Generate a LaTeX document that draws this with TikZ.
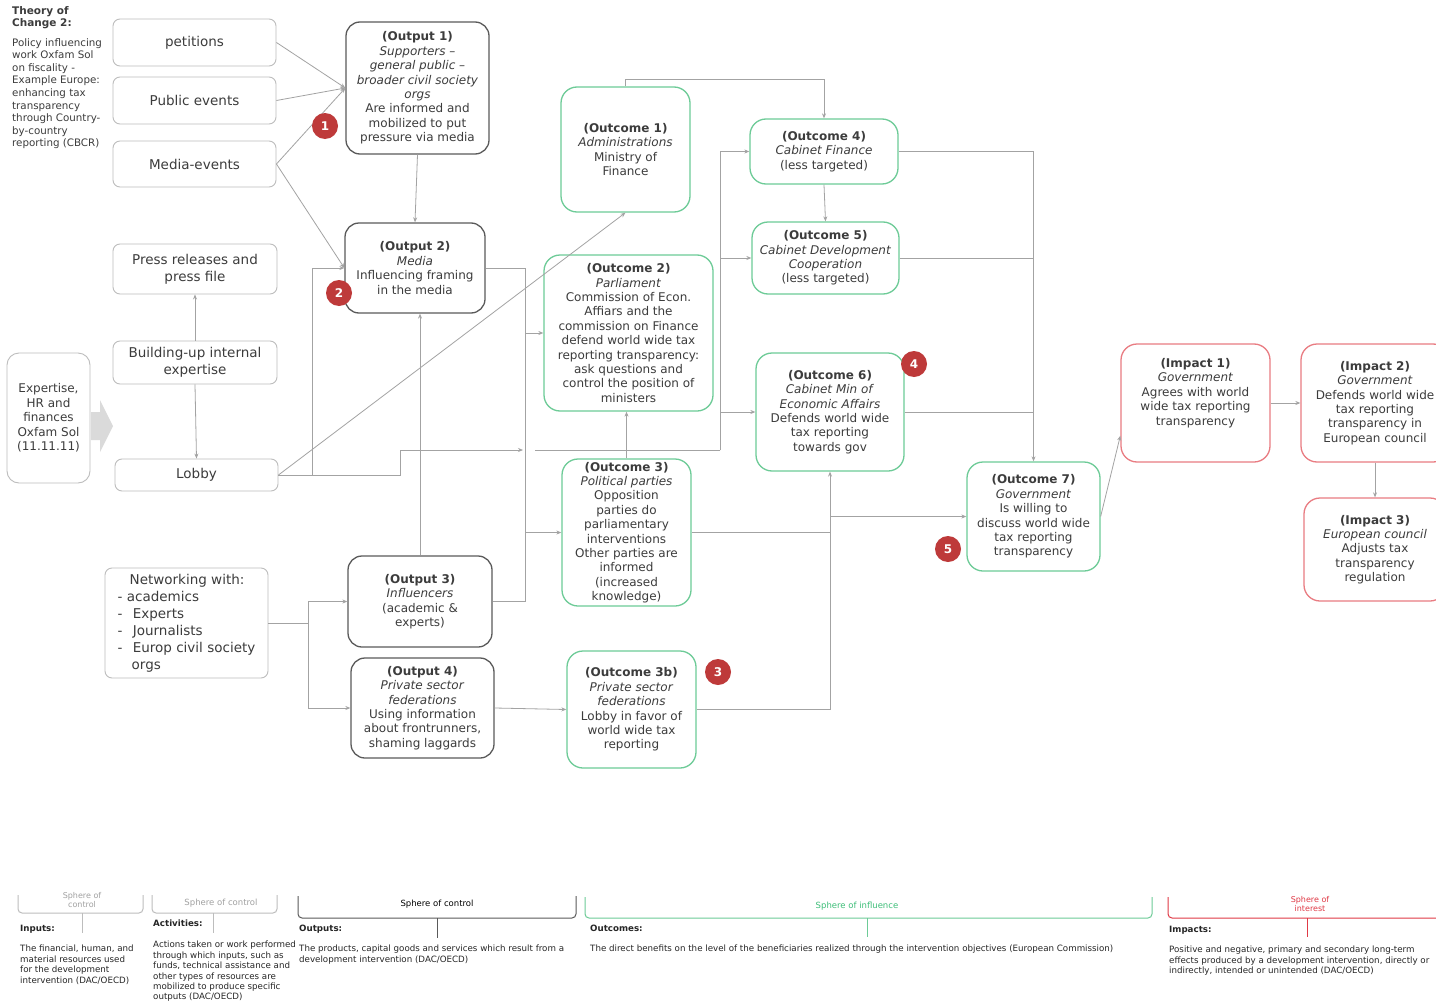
\documentclass[tikz,border=0pt]{standalone}
\usepackage{fontspec}
\setmainfont{DejaVu Sans}
\usetikzlibrary{positioning}
\usetikzlibrary{arrows.meta}
\usetikzlibrary{calc}
\definecolor{txtgray}{HTML}{3C3C3C}
\definecolor{boxgray}{HTML}{BDBDBD}
\definecolor{outgray}{HTML}{5A5A5A}
\definecolor{ocgreen}{HTML}{6DCB97}
\definecolor{imred}{HTML}{E97C82}
\definecolor{badgered}{HTML}{BE3A3A}
\definecolor{wiregray}{HTML}{A3A3A3}
\definecolor{arrowgray}{HTML}{DADADA}
\definecolor{leggreen}{HTML}{3DBE78}
\definecolor{legred}{HTML}{E03A46}
\tikzset{
    actbox/.style = {rectangle, rounded corners=7pt, draw=boxgray, line width=0.9pt, align=center, text=txtgray, inner sep=1pt, font=\fontsize{13.5}{17}\selectfont},
    outbox/.style = {rectangle, rounded corners=14pt, draw=outgray, line width=1.3pt, align=center, text=txtgray, inner sep=1pt, font=\fontsize{12}{14.4}\selectfont},
    ocbox/.style = {outbox, rounded corners=16pt, draw=ocgreen},
    imbox/.style = {outbox, rounded corners=16pt, draw=imred},
    badge/.style = {circle, fill=badgered, text=white, minimum size=26pt, inner sep=0pt, font=\fontsize{12}{12}\selectfont\bfseries},
    wire/.style = {draw=wiregray, line width=0.8pt},
    conn/.style = {wire, -{Stealth[length=5pt,width=4pt]}},
    notetext/.style = {align=left, anchor=north west, text=txtgray, inner sep=0pt},
    legtext/.style = {align=left, anchor=north west, text=black!85, inner sep=0pt, font=\fontsize{8.7}{10.4}\selectfont},
    leghead/.style = {legtext, font=\fontsize{8.7}{10.4}\selectfont\bfseries},
    spheretext/.style = {align=center, inner sep=0pt, font=\fontsize{8.5}{7}\selectfont},
    sphere/.style = {line width=1pt, rounded corners=4pt}
}
\begin{document}
\begin{tikzpicture}[x=1pt,y=-1pt]
\path[use as bounding box, fill=white] (0,0) rectangle (1436,1001);
\clip (0,0) rectangle (1436,1001);
%
% inputs and activities
\node[notetext, font=\fontsize{10.5}{12}\selectfont\bfseries] at (12,6) (theory) {Theory of\\Change 2:};
\node[notetext, font=\fontsize{10.3}{12.6}\selectfont] at (12,38) (theorytxt) {Policy influencing\\work Oxfam Sol\\on fiscality -\\Example Europe:\\enhancing tax\\transparency\\through Country-\\by-country\\reporting (CBCR)};
\node[actbox, minimum width=163pt, minimum height=47pt] at (194.5,42.5) (petitions) {petitions};
\node[actbox, minimum width=163pt, minimum height=47pt] at (194.5,100.5) (pubev) {Public events};
\node[actbox, minimum width=163pt, minimum height=46pt] at (194.5,164) (mediaev) {Media-events};
\node[actbox, minimum width=164pt, minimum height=50pt] at (195,269) (press) {Press releases and\\press file};
\node[actbox, minimum width=164pt, minimum height=43pt] at (195,362.5) (buildup) {Building-up internal\\expertise};
\node[actbox, minimum width=163pt, minimum height=32pt] at (196.5,475) (lobby) {Lobby};
\node[actbox, align=left, minimum width=163pt, minimum height=110pt] at (186.5,623) (network) {\hspace*{12pt}Networking with:\\- academics\\-\hspace{6pt} Experts\\-\hspace{6pt} Journalists\\-\hspace{6pt} Europ civil society\\\hspace*{14pt}orgs};
\node[actbox, font=\fontsize{12}{14.5}\selectfont, rounded corners=12pt, minimum width=83pt, minimum height=130pt] at (48.5,418) (inputs) {Expertise,\\HR and\\finances\\Oxfam Sol\\(11.11.11)};
\fill[arrowgray] (91,412) -- (100,412) -- (100,400) -- (113,426) -- (100,452) -- (100,440) -- (91,440) -- cycle;
%
% outputs
\node[outbox, minimum width=143pt, minimum height=132pt] at (417.5,88) (out1) {\textbf{(Output 1)}\\\textit{Supporters –}\\\textit{general public –}\\\textit{broader civil society}\\\textit{orgs}\\Are informed and\\mobilized to put\\pressure via media};
\node[outbox, minimum width=140pt, minimum height=90pt] at (415,268) (out2) {\textbf{(Output 2)}\\\textit{Media}\\Influencing framing\\in the media};
\node[outbox, minimum width=144pt, minimum height=91pt] at (420,601.5) (out3) {\textbf{(Output 3)}\\\textit{Influencers}\\(academic \&\\experts)};
\node[outbox, minimum width=143pt, minimum height=100pt] at (422.5,708) (out4) {\textbf{(Output 4)}\\\textit{Private sector}\\\textit{federations}\\Using information\\about frontrunners,\\shaming laggards};
%
% outcomes
\node[ocbox, minimum width=129pt, minimum height=125pt] at (625.5,149.5) (oc1) {\textbf{(Outcome 1)}\\\textit{Administrations}\\Ministry of\\Finance};
\node[ocbox, minimum width=169pt, minimum height=156pt] at (628.5,333) (oc2) {\textbf{(Outcome 2)}\\\textit{Parliament}\\Commission of Econ.\\Affiars and the\\commission on Finance\\defend world wide tax\\reporting transparency:\\ask questions and\\control the position of\\ministers};
\node[ocbox, minimum width=129pt, minimum height=147pt] at (626.5,532.5) (oc3) {\textbf{(Outcome 3)}\\\textit{Political parties}\\Opposition\\parties do\\parliamentary\\interventions\\Other parties are\\informed\\(increased\\knowledge)};
\node[ocbox, minimum width=129pt, minimum height=117pt] at (631.5,709.5) (oc3b) {\textbf{(Outcome 3b)}\\\textit{Private sector}\\\textit{federations}\\Lobby in favor of\\world wide tax\\reporting};
\node[ocbox, minimum width=148pt, minimum height=65pt] at (824,151.5) (oc4) {\textbf{(Outcome 4)}\\\textit{Cabinet Finance}\\(less targeted)};
\node[ocbox, minimum width=147pt, minimum height=72pt] at (825.5,258) (oc5) {\textbf{(Outcome 5)}\\\textit{Cabinet Development}\\\textit{Cooperation}\\(less targeted)};
\node[ocbox, minimum width=148pt, minimum height=118pt] at (830,412) (oc6) {\textbf{(Outcome 6)}\\\textit{Cabinet Min of}\\\textit{Economic Affairs}\\Defends world wide\\tax reporting\\towards gov};
\node[ocbox, minimum width=133pt, minimum height=109pt] at (1033.5,516.5) (oc7) {\textbf{(Outcome 7)}\\\textit{Government}\\Is willing to\\discuss world wide\\tax reporting\\transparency};
%
% impacts
\node[imbox, minimum width=149pt, minimum height=118pt] at (1195.5,403) (im1) {\textbf{(Impact 1)}\\\textit{Government}\\Agrees with world\\wide tax reporting\\transparency\\[8pt]};
\node[imbox, minimum width=148pt, minimum height=118pt] at (1375,403) (im2) {\textbf{(Impact 2)}\\\textit{Government}\\Defends world wide\\tax reporting\\transparency in\\European council};
\node[imbox, minimum width=142pt, minimum height=103pt] at (1375,549.5) (im3) {\textbf{(Impact 3)}\\\textit{European council}\\Adjusts tax\\transparency\\regulation};
%
% junctions
\coordinate (lb1) at (312,268);
\coordinate (lb2) at (400,450);
\coordinate (lb3) at (523,450);
\coordinate (lb4) at (535,450);
\coordinate (bus2) at (720,450);
\coordinate (b1a) at (525,268);
\coordinate (nw) at (308,623);
%
\draw[conn] (petitions.east) -- (out1.west);
\draw[conn] (pubev.east) -- (out1.west);
\draw[conn] (mediaev.east) -- (out1.west);
\draw[conn] (mediaev.east) -- (out2.west);
\draw[conn] (out1.south) -- (out2.north);
\draw[conn] (buildup.north) -- (press.south);
\draw[conn] (buildup.south) -- (lobby.north);
\draw[conn] (lobby.east) -- (oc1.south);
\draw[conn] (lobby.east) -| (lb1) -- (out2.west);
\draw[conn] (lobby.east) -| (lb2) -- (lb3);
\draw[wire] (lb4) -- (bus2);
\draw[conn] (bus2) |- (oc4.west);
\draw[conn] (bus2) |- (oc5.west);
\draw[conn] (bus2) |- (oc6.west);
\draw[wire] (out2.east) -- (b1a);
\draw[conn] (b1a) |- (oc2.west);
\draw[conn] (b1a) |- (oc3.west);
\draw[wire] (out3.east) -| (b1a |- oc3.west);
\draw[conn] (out3.north) -- (out3.north |- out2.south);
\draw[wire] (network.east) -- (nw);
\draw[conn] (nw) |- (out3.west);
\draw[conn] (nw) |- (out4.west);
\draw[conn] (out4.east) -- (oc3b.west);
\draw[conn] (oc3.north) -- (oc3.north |- oc2.south);
\draw[wire] (oc3.east) -- (oc3.east -| oc6.south);
\draw[conn] (oc3b.east) -| (oc6.south);
\draw[conn] (oc7.west -| oc6.south) -- (oc7.west);
\draw[conn] (oc1.north) -- ++(0,-7) -| (oc4.north);
\draw[conn] (oc4.south) -- (oc5.north);
\draw[conn] (oc4.east) -| (oc7.north);
\draw[wire] (oc5.east) -- (oc5.east -| oc7.north);
\draw[wire] (oc6.east) -- (oc6.east -| oc7.north);
\draw[conn] (oc7.east) -- ($(im1.south west)+(0,-27)$);
\draw[conn] (im1.east) -- (im2.west);
\draw[conn] (im2.south) -- (im3.north);
%
% numbered steps
\node[badge] at (325,126) (n1) {1};
\node[badge] at (339,293) (n2) {2};
\node[badge] at (718,672) (n3) {3};
\node[badge] at (914,364) (n4) {4};
\node[badge] at (948,549) (n5) {5};
%
% spheres legend
\draw[sphere, draw=boxgray] (18,895) -- (18,913) -- (143,913) -- (143,895);
\draw[sphere, draw=boxgray] (82,913) -- (82,933);
\node[spheretext, text=boxgray!85!black, font=\fontsize{8}{6}\selectfont] at (82,900) (sph1) {Sphere of\\control};
\draw[sphere, draw=boxgray] (152,895) -- (152,913) -- (277,913) -- (277,895);
\draw[sphere, draw=boxgray] (213,913) -- (213,933);
\node[spheretext, text=boxgray!85!black] at (221,903) (sph2) {Sphere of control};
\draw[sphere, draw=outgray] (298,896) -- (298,918) -- (576,918) -- (576,896);
\draw[sphere, draw=outgray] (437,918) -- (437,938);
\node[spheretext, text=black] at (437,904) (sph3) {Sphere of control};
\draw[sphere, draw=ocgreen] (585,897) -- (585,918) -- (1152,918) -- (1152,897);
\draw[sphere, draw=ocgreen] (867,918) -- (867,937);
\node[spheretext, text=leggreen] at (857,906) (sph4) {Sphere of influence};
\draw[sphere, draw=legred] (1168,897) -- (1168,918) -- (1450,918);
\draw[sphere, draw=legred] (1307,918) -- (1307,937);
\node[spheretext, text=legred, font=\fontsize{8}{6}\selectfont] at (1310,904) (sph5) {Sphere of\\interest};
%
\node[leghead] at (20,925) (hin) {Inputs:};
\node[leghead] at (153,920) (hact) {Activities:};
\node[leghead] at (299,925) (hout) {Outputs:};
\node[leghead] at (590,925) (hoc) {Outcomes:};
\node[leghead] at (1169,926) (him) {Impacts:};
\node[legtext] at (20,945) (din) {The financial, human, and\\material resources used\\for the development\\intervention (DAC/OECD)};
\node[legtext] at (153,941) (dact) {Actions taken or work performed\\through which inputs, such as\\funds, technical assistance and\\other types of resources are\\mobilized to produce specific\\outputs (DAC/OECD)};
\node[legtext] at (299,945) (dout) {The products, capital goods and services which result from a\\development intervention (DAC/OECD)};
\node[legtext] at (590,945) (doc) {The direct benefits on the level of the beneficiaries realized through the intervention objectives (European Commission)};
\node[legtext] at (1169,946) (dim) {Positive and negative, primary and secondary long-term\\effects produced by a development intervention, directly or\\indirectly, intended or unintended (DAC/OECD)};
\end{tikzpicture}
\end{document}
